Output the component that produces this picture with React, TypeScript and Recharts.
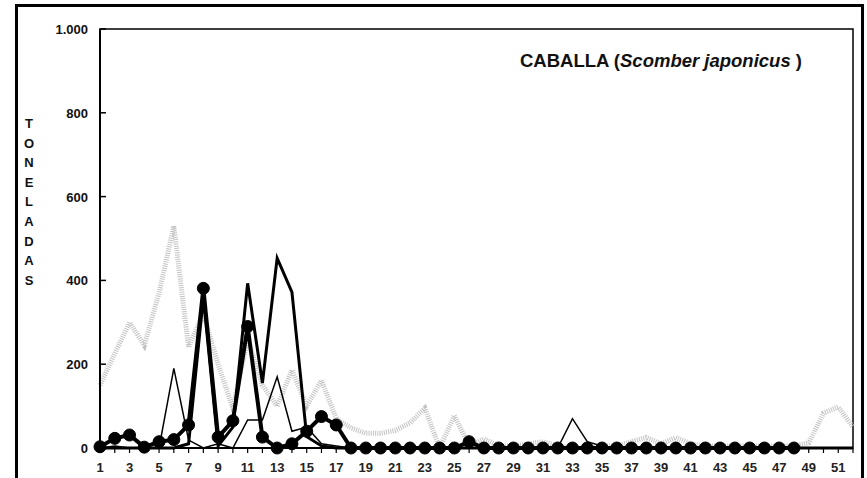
import { LineChart, Line, XAxis, YAxis, ReferenceArea } from "recharts";

const weeks = Array.from({ length: 52 }, (_, i) => i + 1);

// grey hatched series
const greyValues = [
  150, 225, 300, 245, 370, 530, 240, 320, 200, 95, 260, 150, 100, 186, 100, 162, 70, 48, 35, 35,
  42, 60, 95, 0, 78, 5, 22, 5, 5, 10, 15, 5, 0, 0, 5, 5, 15, 25, 10, 25,
  10, 5, 5, 5, 5, 5, 5, 5, 12, 83, 98, 50,
];

// medium black line
const mediumValues = [
  0, 0, 0, 0, 0, 0, 10, 360, 5, 50, 393, 155, 453, 372, 27, 5, 0, 0, 0, 0,
  0, 0, 0, 0, 0, 0, 0, 0, 0, 0, 0, 0, 0, 0, 0, 0, 0, 0, 0, 0,
  0, 0, 0, 0, 0, 0, 0, 0, 0, 0, 0, 0,
];

// thin black line
const thinValues = [
  0, 5, 0, 0, 0, 190, 19, 0, 10, 0, 67, 67, 170, 40, 50, 10, 5, 0, 0, 0,
  0, 0, 0, 0, 0, 0, 0, 0, 0, 0, 0, 0, 70, 15, 5, 0, 0, 0, 0, 0,
  0, 0, 0, 0, 0, 0, 0, 0, 0, 0, 0, 0,
];

// black line with round markers (ends at week 48)
const dotValues: (number | null)[] = [
  3, 23, 31, 2, 15, 20, 55, 381, 26, 65, 290, 26, 0, 10, 40, 75, 55, 0, 0, 0,
  0, 0, 0, 0, 0, 15, 0, 0, 0, 0, 0, 0, 0, 0, 0, 0, 0, 0, 0, 0,
  0, 0, 0, 0, 0, 0, 0, 0, null, null, null, null,
];

const yTicks = [0, 200, 400, 600, 800, 1000];
const yLabel = "TONELADAS";

const data = weeks.map((w, i) => ({
  week: w,
  grey: greyValues[i],
  medium: mediumValues[i],
  thin: thinValues[i],
  dots: dotValues[i],
}));

const font = "'Liberation Sans', Arial, sans-serif";

function YTick({ x, y, payload }: any) {
  const v = payload.value;
  return (
    <g>
      <line x1={x} x2={x + 6} y1={y} y2={y} stroke="#000" strokeWidth={1.5} />
      <text
        x={x - 12}
        y={y + 5}
        textAnchor="end"
        fontFamily={font}
        fontWeight="bold"
        fontSize={13}
        fill="#111"
      >
        {v === 1000 ? "1.000" : v}
      </text>
    </g>
  );
}

function XTick({ x, y, payload }: any) {
  const v = payload.value;
  return (
    <g>
      <line x1={x} x2={x} y1={y} y2={y + 5} stroke="#000" strokeWidth={1.2} />
      {v % 2 === 1 && (
        <text
          x={x}
          y={y + 24}
          textAnchor="middle"
          fontFamily={font}
          fontWeight="bold"
          fontSize={13}
          fill="#222"
        >
          {v}
        </text>
      )}
    </g>
  );
}

export default function App() {
  return (
    <div
      style={{
        position: "absolute",
        left: 0,
        top: 0,
        width: 867,
        height: 478,
        overflow: "hidden",
        background: "#fff",
      }}
    >
      <div
        style={{
          position: "absolute",
          left: 15,
          top: 4,
          width: 843,
          height: 520,
          border: "3px solid #000",
        }}
      />
      <div
        style={{
          position: "absolute",
          left: 0,
          top: 114,
          width: 58,
          fontFamily: font,
          fontWeight: "bold",
          fontSize: 13,
          color: "#111",
          textAlign: "center",
        }}
      >
        {yLabel.split("").map((c, i) => (
          <div key={i} style={{ height: 19.6, lineHeight: "19.6px" }}>
            {c}
          </div>
        ))}
      </div>
      <div
        style={{
          position: "absolute",
          left: 520,
          top: 50,
          fontFamily: font,
          fontWeight: "bold",
          fontSize: 18.5,
          color: "#111",
          whiteSpace: "pre",
        }}
      >
        CABALLA (<i>Scomber japonicus</i> )
      </div>
      <div style={{ position: "absolute", left: 0, top: 0 }}>
        <LineChart
          width={867}
          height={478}
          data={data}
          margin={{ top: 29, right: 14, bottom: 0, left: 40 }}
        >
          <ReferenceArea
            x1={1}
            x2={52}
            y1={0}
            y2={1000}
            fill="none"
            stroke="#000"
            strokeWidth={1.5}
            ifOverflow="visible"
          />
          <XAxis
            dataKey="week"
            type="number"
            domain={[1, 52]}
            ticks={weeks}
            interval={0}
            height={30}
            tickSize={0}
            tickMargin={0}
            tickLine={false}
            axisLine={{ stroke: "#000", strokeWidth: 2 }}
            tick={<XTick />}
          />
          <YAxis
            type="number"
            domain={[0, 1000]}
            ticks={yTicks}
            width={60}
            tickSize={0}
            tickMargin={0}
            tickLine={false}
            axisLine={{ stroke: "#000", strokeWidth: 2 }}
            tick={<YTick />}
          />
          <Line
            dataKey="grey"
            stroke="#c2c2c2"
            strokeWidth={5}
            strokeDasharray="1 1.2"
            dot={false}
            isAnimationActive={false}
          />
          <Line
            dataKey="thin"
            stroke="#000"
            strokeWidth={1.5}
            dot={false}
            isAnimationActive={false}
          />
          <Line
            dataKey="medium"
            stroke="#000"
            strokeWidth={3}
            dot={false}
            isAnimationActive={false}
          />
          <Line
            dataKey="dots"
            stroke="#000"
            strokeWidth={4}
            dot={{ r: 6, fill: "#000", stroke: "#000", strokeWidth: 1 }}
            connectNulls={false}
            isAnimationActive={false}
          />
        </LineChart>
      </div>
    </div>
  );
}
